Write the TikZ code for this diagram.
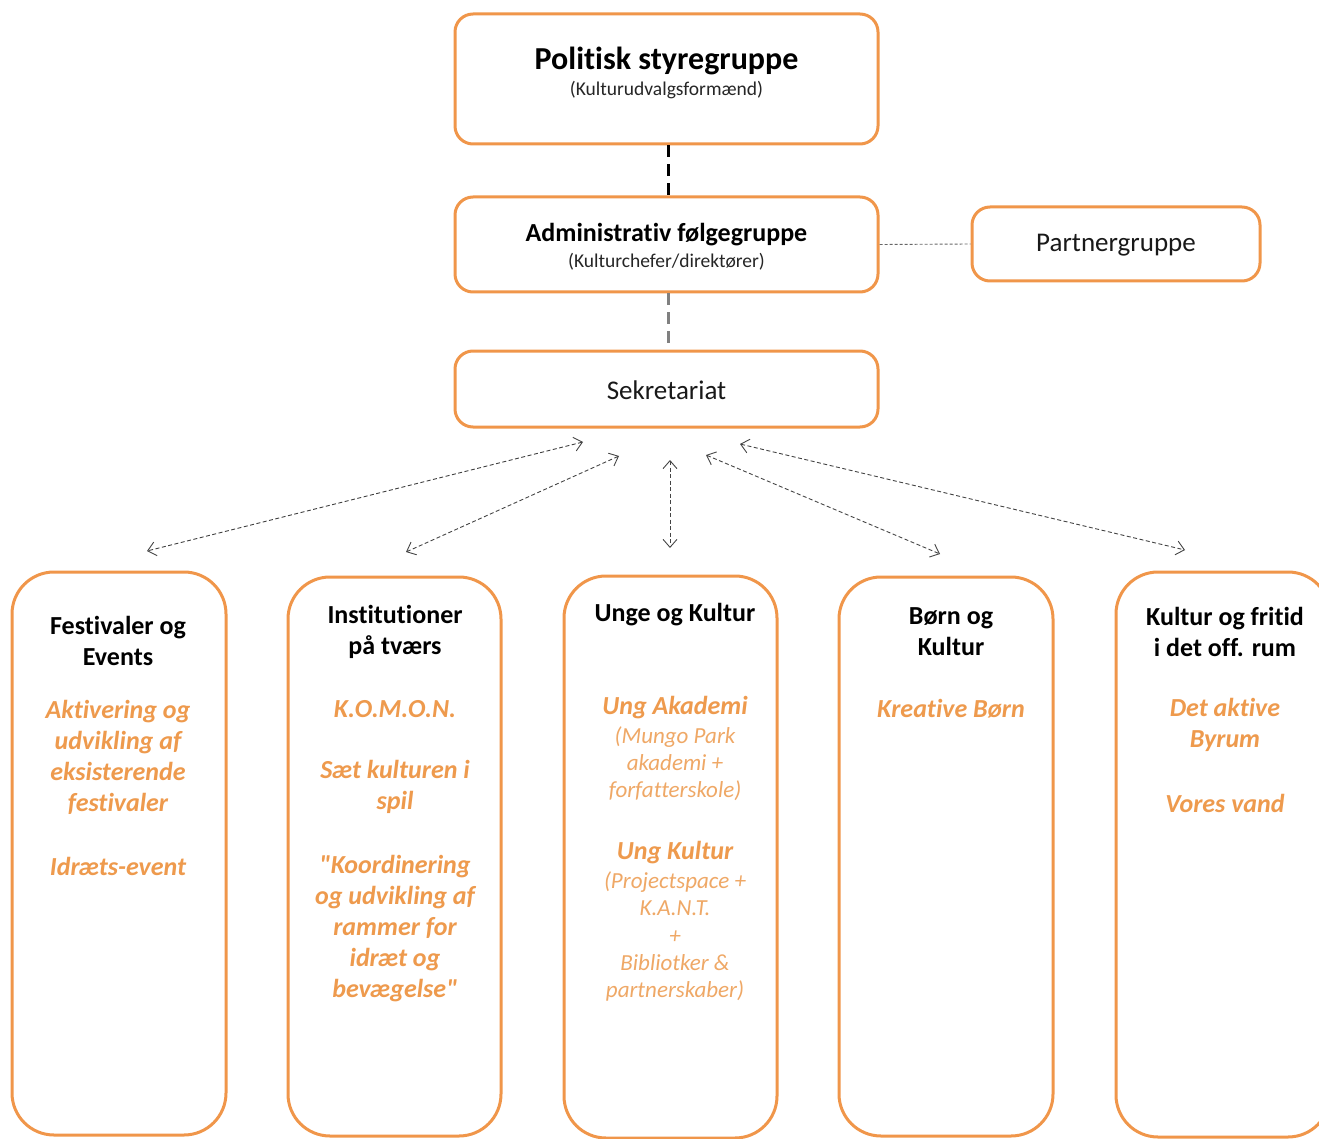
\documentclass[tikz,border=0pt]{standalone}
\usepackage{fontspec}
\setmainfont{Carlito}[Ligatures={NoCommon,NoContextual},RawFeature={-calt;-dlig}]
\newfontfamily\qfont{Carlito}[Ligatures={NoCommon,NoContextual},RawFeature={-calt;-dlig}]
\usetikzlibrary{arrows.meta}
\definecolor{obord}{HTML}{F0964A}
\definecolor{otext}{HTML}{EE9A4D}
\definecolor{osub}{HTML}{EFA866}
\definecolor{adash}{HTML}{444444}
\newcommand{\dq}{{\qfont"}}
\tikzset{
  topbox/.style={draw=obord, line width=3pt, rounded corners=18pt, inner sep=0pt, fill=white},
  colbox/.style={draw=obord, line width=3pt, rounded corners=42pt, inner sep=0pt, fill=white},
  ttl/.style={font=\fontsize{32}{36}\selectfont\bfseries, text=black, inner sep=0pt},
  sub/.style={font=\fontsize{19.5}{22}\selectfont, text=black!85, inner sep=0pt},
  mid/.style={font=\fontsize{26}{30}\selectfont\bfseries, text=black, inner sep=0pt},
  plain/.style={font=\fontsize{27}{30}\selectfont, text=black!90, inner sep=0pt},
  head/.style={font=\fontsize{26}{31}\selectfont\bfseries, text=black, align=center, inner sep=0pt},
  item/.style={font=\fontsize{26}{31}\selectfont\bfseries\itshape, text=otext, align=center, inner sep=0pt},
  itemsub/.style={font=\fontsize{23}{27.3}\selectfont\itshape, text=osub, align=center, inner sep=0pt},
  link/.style={<->, >={Straight Barb[length=8pt,width=14pt]}, draw=adash, line width=0.9pt, dash pattern=on 4pt off 2.5pt},
}
\begin{document}
\begin{tikzpicture}[x=1pt,y=-1pt]
\useasboundingbox (0,0) rectangle (1319,1139);
\clip (0,0) rectangle (1319,1139);
% top boxes
\node[topbox, minimum width=423pt, minimum height=130pt] (pol) at (666.5,79) {};
\node[ttl] (polt) at (666.5,60.5) {Politisk styregruppe};
\node[sub] (pols) at (666.5,90) {(Kulturudvalgsformænd)};
\node[topbox, minimum width=423pt, minimum height=95pt] (adm) at (666.5,244.5) {};
\node[mid] (admt) at (666.5,235) {Administrativ følgegruppe};
\node[sub] (adms) at (666.5,262) {(Kulturchefer/direktører)};
\node[topbox, minimum width=288pt, minimum height=74pt] (part) at (1116,244) {};
\node[plain] (partt) at (1116,245) {Partnergruppe};
\node[topbox, minimum width=423pt, minimum height=76pt] (sek) at (666.5,389) {};
\node[plain] (sekt) at (666.5,390) {Sekretariat};
% connectors
\draw[black, line width=3pt, dash pattern=on 12pt off 7pt] (pol.south) ++(1.5,0) coordinate (p1) -- (p1 |- adm.north);
\draw[black!50, line width=3pt, dash pattern=on 12pt off 7pt] (adm.south) ++(1.5,0) coordinate (a1) -- (a1 |- sek.north);
\draw[black!60, line width=0.9pt, dash pattern=on 3pt off 2pt] (adm.east) -- (part.west);
% arrow ends
\coordinate (s1) at (583,442); \coordinate (e1) at (147,551);
\coordinate (s2) at (619,456); \coordinate (e2) at (406,552);
\coordinate (s3) at (670,460); \coordinate (e3) at (670,548);
\coordinate (s4) at (706,455); \coordinate (e4) at (940,554);
\coordinate (s5) at (740,444); \coordinate (e5) at (1185,550);
\draw[link] (s1) -- (e1);
\draw[link] (s2) -- (e2);
\draw[link] (s3) -- (e3);
\draw[link] (s4) -- (e4);
\draw[link] (s5) -- (e5);
% column boxes
\node[colbox, minimum width=214pt, minimum height=563pt] (c1) at (119,853.5) {};
\node[colbox, minimum width=213pt, minimum height=559pt] (c2) at (394.5,856.5) {};
\node[colbox, minimum width=213pt, minimum height=562pt] (c3) at (670.5,857) {};
\node[colbox, minimum width=214pt, minimum height=559pt] (c4) at (946,856.5) {};
\node[colbox, minimum width=214pt, minimum height=565pt] (c5) at (1223,854.5) {};
% column 1
\node[head] (h1) at (118,641) {Festivaler og\\Events};
\node[item] (i1a) at (118,757) {Aktivering og\\udvikling af\\eksisterende\\festivaler};
\node[item] (i1b) at (118,866) {Idræts-event};
% column 2
\node[head] (h2) at (395,632) {Institutioner\\på tværs};
\node[item] (i2a) at (395,709) {K.O.M.O.N.};
\node[item] (i2b) at (395,787) {Sæt kulturen i\\spil};
\node[item] (i2c) at (395,928.5) {\dq Koordinering\\og udvikling af\\rammer for\\idræt og\\bevægelse\dq};
% column 3
\node[head] (h3) at (675,614.5) {Unge og Kultur};
\node[item] (i3a) at (675,708) {Ung Akademi};
\node[itemsub] (i3b) at (675,763.5) {(Mungo Park\\akademi +\\forfatterskole)};
\node[item] (i3c) at (675,853) {Ung Kultur};
\node[itemsub] (i3d) at (675,936.5) {(Projectspace +\\K.A.N.T.\\+\\Bibliotker \&\\partnerskaber)};
% column 4
\node[head] (h4) at (951,632) {Børn og\\Kultur};
\node[item] (i4a) at (951,709) {Kreative Børn};
% column 5
\node[head] (h5) at (1225,632) {Kultur og fritid\\i det off. rum};
\node[item] (i5a) at (1225,725) {Det aktive\\Byrum};
\node[item] (i5b) at (1225,803) {Vores vand};
\end{tikzpicture}
\end{document}
